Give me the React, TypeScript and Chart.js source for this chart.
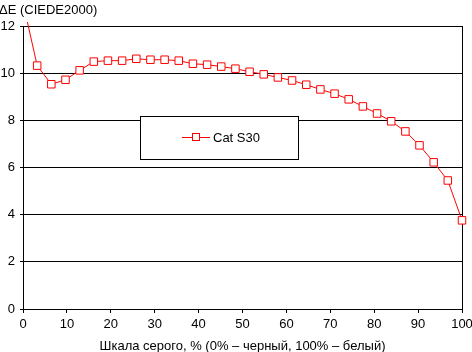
import React, { useEffect, useRef } from 'react';
import { Chart, registerables } from 'chart.js';

Chart.register(...registerables);

const grayLevels = [
  0, 3.23, 6.45, 9.68, 12.9, 16.13, 19.35, 22.58, 25.81, 29.03, 32.26, 35.48,
  38.71, 41.94, 45.16, 48.39, 51.61, 54.84, 58.06, 61.29, 64.52, 67.74, 70.97,
  74.19, 77.42, 80.65, 83.87, 87.1, 90.32, 93.55, 96.77, 100,
];
const deltaE = [
  13.0, 10.32, 9.53, 9.72, 10.12, 10.49, 10.53, 10.53, 10.61, 10.57, 10.57,
  10.53, 10.4, 10.36, 10.28, 10.19, 10.06, 9.95, 9.82, 9.69, 9.51, 9.31, 9.13,
  8.89, 8.59, 8.29, 7.96, 7.53, 6.94, 6.22, 5.45, 3.76,
];
const seriesName = 'Cat S30';
const yTitle = 'ΔE (CIEDE2000)';
const xTitle = 'Шкала серого, % (0% – черный, 100% – белый)';

const FONT = "'Liberation Sans', Arial, sans-serif";

const decorPlugin = {
  id: 'decor',
  beforeDatasetsDraw(chart: any) {
    const { ctx, chartArea } = chart;
    ctx.save();
    ctx.strokeStyle = '#000';
    ctx.lineWidth = 1;
    const x = Math.round(chartArea.right) + 0.5;
    ctx.beginPath();
    ctx.moveTo(x, Math.round(chartArea.top));
    ctx.lineTo(x, Math.round(chartArea.bottom) + 1);
    ctx.stroke();
    ctx.restore();
  },
  afterDraw(chart: any) {
    const { ctx, chartArea } = chart;
    ctx.save();
    ctx.fillStyle = '#000';
    ctx.font = `13px ${FONT}`;
    ctx.textBaseline = 'alphabetic';
    ctx.textAlign = 'left';
    ctx.fillText(yTitle, -1, 13.5);
    ctx.textAlign = 'center';
    ctx.fillText(xTitle, (chartArea.left + chartArea.right) / 2, 349.5);

    // legend box
    ctx.fillStyle = '#fff';
    ctx.fillRect(140.5, 116.5, 158, 43);
    ctx.strokeStyle = '#000';
    ctx.lineWidth = 1;
    ctx.strokeRect(140.5, 116.5, 158, 43);
    ctx.strokeStyle = '#ff0000';
    ctx.beginPath();
    ctx.moveTo(182, 137.5);
    ctx.lineTo(210, 137.5);
    ctx.stroke();
    ctx.fillStyle = '#fff';
    ctx.fillRect(192.5, 133.5, 7, 7);
    ctx.strokeRect(192.5, 133.5, 7, 7);
    ctx.fillStyle = '#000';
    ctx.textAlign = 'left';
    ctx.fillText(seriesName, 213, 141.5);
    ctx.restore();
  },
};

export default function App() {
  const ref = useRef<HTMLCanvasElement | null>(null);
  useEffect(() => {
    if (!ref.current) return;
    const chart = new Chart(ref.current, {
      type: 'line',
      data: {
        datasets: [
          {
            label: seriesName,
            data: grayLevels.map((x, i) => ({ x, y: deltaE[i] })),
            borderColor: '#ff0000',
            borderWidth: 1,
            pointStyle: 'rect',
            pointRadius: 5.3,
            pointBorderColor: '#ff0000',
            pointBackgroundColor: '#ffffff',
            pointBorderWidth: 1,
            tension: 0,
            clip: { left: 6, right: 6, top: 4, bottom: 6 } as any,
          },
        ],
      },
      options: {
        animation: false,
        responsive: false,
        devicePixelRatio: 1,
        layout: { padding: { top: 26, right: 10, left: 0, bottom: 0 } },
        plugins: { legend: { display: false }, tooltip: { enabled: false } },
        scales: {
          x: {
            type: 'linear',
            min: 0,
            max: 100,
            ticks: {
              stepSize: 10,
              color: '#000',
              padding: 4,
              maxRotation: 0,
              font: { family: FONT, size: 13 },
            },
            grid: { drawOnChartArea: false, tickLength: 4, color: '#000', lineWidth: 1 },
            border: { color: '#000', width: 1 },
            afterFit: (s: any) => {
              s.height = 43;
              s.paddingLeft = 0;
              s.paddingRight = 0;
            },
          },
          y: {
            min: 0,
            max: 12,
            ticks: {
              stepSize: 2,
              color: '#000',
              padding: 5,
              font: { family: FONT, size: 13 },
            },
            grid: { color: '#000', tickLength: 3, lineWidth: 1 },
            border: { color: '#000', width: 1 },
            afterFit: (s: any) => {
              s.width = 23;
              s.paddingTop = 0;
              s.paddingBottom = 0;
            },
          },
        },
      },
      plugins: [decorPlugin],
    });
    return () => chart.destroy();
  }, []);
  return (
    <div style={{ position: 'absolute', left: 0, top: 0, width: 472, height: 352, background: '#fff' }}>
      <canvas ref={ref} width={472} height={352} />
    </div>
  );
}
